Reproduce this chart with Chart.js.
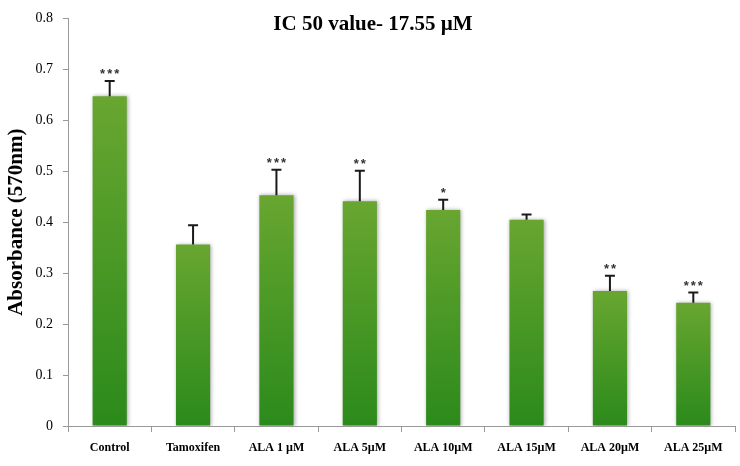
<!DOCTYPE html>
<html>
<head>
<meta charset="utf-8">
<script src="https://cdn.jsdelivr.net/npm/chart.js@4/dist/chart.umd.min.js"></script>
<style>
    html, body { margin: 0; padding: 0; background: #fff; }
    #wrap { width: 740px; height: 466px; }
</style>
</head>
<body>
<div id="wrap"><canvas id="chart_abs"></canvas></div>
<script>
var categories = ['Control', 'Tamoxifen', 'ALA 1 \u00b5M', 'ALA 5\u00b5M', 'ALA 10\u00b5M', 'ALA 15\u00b5M', 'ALA 20\u00b5M', 'ALA 25\u00b5M'];
var absorbance = [0.647, 0.356, 0.453, 0.441, 0.424, 0.405, 0.265, 0.242];
var errors = [0.030, 0.038, 0.050, 0.060, 0.020, 0.010, 0.030, 0.020];
var stars = ['***', '', '***', '**', '*', '', '**', '***'];
var yTickLabels = ['0', '0.1', '0.2', '0.3', '0.4', '0.5', '0.6', '0.7', '0.8'];
var titleText = 'IC 50 value- 17.55 \u00b5M';

var serif = '"Liberation Serif", "Times New Roman", serif';

// gradient per bar, lighter on top
var barFill = function (ctx) {
    var chart = ctx.chart;
    var y = chart.scales.y;
    if (!y || ctx.dataIndex === undefined) {
        return '#4c9a24';
    }
    var top = y.getPixelForValue(absorbance[ctx.dataIndex]);
    var bottom = y.getPixelForValue(0);
    if (!isFinite(top) || !isFinite(bottom) || top === bottom) {
        return '#4c9a24';
    }
    var g = chart.ctx.createLinearGradient(0, top, 0, bottom);
    g.addColorStop(0, '#68a630');
    g.addColorStop(1, '#2b8a1b');
    return g;
};

var extras = {
    id: 'extras',
    beforeDatasetsDraw: function (chart) {
        var c = chart.ctx;
        c.save();
        c.shadowColor = 'rgba(0,0,0,0.35)';
        c.shadowBlur = 4;
        c.shadowOffsetX = 1;
        c.shadowOffsetY = 0;
    },
    afterDatasetsDraw: function (chart) {
        var c = chart.ctx;
        c.restore();
        var meta = chart.getDatasetMeta(0);
        var y = chart.scales.y;
        c.save();
        for (var i = 0; i < meta.data.length; i++) {
            var bar = meta.data[i];
            var top = y.getPixelForValue(absorbance[i]);
            var errTop = y.getPixelForValue(absorbance[i] + errors[i]);
            c.strokeStyle = '#1a1a1a';
            c.lineWidth = 2;
            c.beginPath();
            c.moveTo(bar.x, top);
            c.lineTo(bar.x, errTop);
            c.moveTo(bar.x - 5, errTop);
            c.lineTo(bar.x + 5, errTop);
            c.stroke();
            if (stars[i]) {
                c.fillStyle = '#333';
                c.font = 'bold 13px "Liberation Sans", sans-serif';
                c.letterSpacing = '2px';
                c.textAlign = 'center';
                c.textBaseline = 'alphabetic';
                c.fillText(stars[i], bar.x + 1, errTop - 3);
            }
        }
        c.letterSpacing = '0px';
        c.fillStyle = '#000';
        c.font = 'bold 21px ' + serif;
        c.textAlign = 'center';
        c.textBaseline = 'alphabetic';
        c.fillText(titleText, 373, 30);
        c.restore();
    }
};

var options = {
    responsive: true,
    maintainAspectRatio: false,
    animation: false,
    layout: { padding: { top: 13, right: 5, left: 0, bottom: 0 } },
    plugins: {
        legend: { display: false },
        tooltip: { enabled: false }
    },
    scales: {
        x: {
            grid: { display: true, drawOnChartArea: false, offset: true, tickLength: 6, color: '#999', tickColor: '#999' },
            border: { color: '#999', width: 1 },
            ticks: { color: '#000', font: { family: serif, size: 12, weight: 'bold' }, padding: 9, maxRotation: 0, autoSkip: false },
            afterFit: function (scale) { scale.height = 40; }
        },
        y: {
            min: 0,
            max: 0.8,
            grid: { display: true, drawOnChartArea: false, tickLength: 5, color: '#999', tickColor: '#999' },
            border: { color: '#999', width: 1 },
            ticks: {
                stepSize: 0.1,
                color: '#000',
                padding: 10,
                font: { family: serif, size: 14 },
                callback: function (value, index) { return yTickLabels[index]; }
            },
            title: {
                display: true,
                text: 'Absorbance (570nm)',
                color: '#000',
                font: { family: serif, size: 21, weight: 'bold' },
                padding: { top: 4, bottom: 0 }
            },
            afterFit: function (scale) { scale.width = 68; }
        }
    }
};

var abs_chart = new Chart(document.getElementById('chart_abs'), {
    type: 'bar',
    data: {
        labels: categories,
        datasets: [{
            data: absorbance,
            backgroundColor: barFill,
            borderWidth: 0,
            categoryPercentage: 1,
            barPercentage: 0.41
        }]
    },
    options: options,
    plugins: [extras]
});
</script>
</body>
</html>
